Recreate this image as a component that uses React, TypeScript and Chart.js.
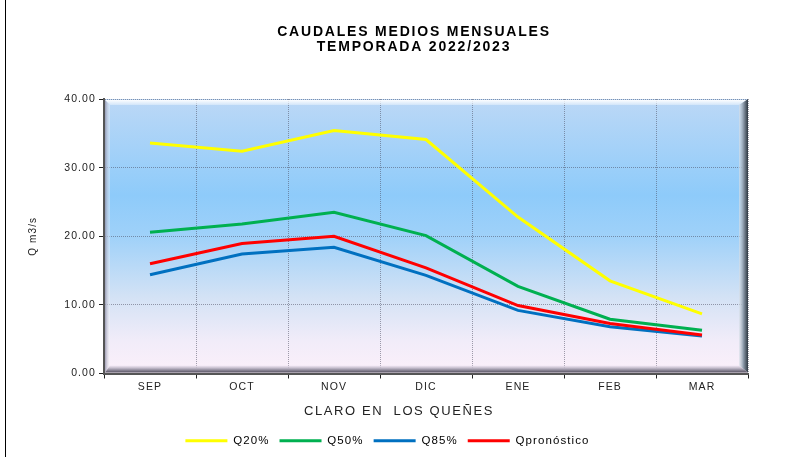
import React, { useEffect, useRef } from "react";
import { Chart, registerables } from "chart.js";

Chart.register(...registerables);

const months = ["SEP", "OCT", "NOV", "DIC", "ENE", "FEB", "MAR"];
const q20 = [33.6, 32.4, 35.4, 34.1, 22.8, 13.5, 8.7];
const q50 = [20.6, 21.8, 23.5, 20.1, 12.7, 7.9, 6.3];
const q85 = [14.4, 17.4, 18.4, 14.3, 9.2, 6.8, 5.45];
const qPron = [16.0, 18.95, 20.0, 15.4, 9.9, 7.3, 5.6];
const yMin = 0;
const yMax = 40;
const yStep = 10;
const titleLines = ["CAUDALES MEDIOS MENSUALES", "TEMPORADA 2022/2023"];
const xTitle = "CLARO EN  LOS QUEÑES";
const yTitle = "Q m3/s";
const seriesNames = ["Q20%", "Q50%", "Q85%", "Qpronóstico"];
const seriesColors = ["#ffff00", "#00b050", "#0070c0", "#ff0000"];

const FONT = '"Liberation Sans", Arial, sans-serif';

function poly(ctx: CanvasRenderingContext2D, pts: number[][], fill: any) {
  ctx.beginPath();
  ctx.moveTo(pts[0][0], pts[0][1]);
  for (let i = 1; i < pts.length; i++) ctx.lineTo(pts[i][0], pts[i][1]);
  ctx.closePath();
  ctx.fillStyle = fill;
  ctx.fill();
}

const decorPlugin = {
  id: "decor",
  beforeUpdate(chart: any) {
    chart.ctx.letterSpacing = "1.1px";
  },
  beforeDraw(chart: any) {
    const ctx = chart.ctx as CanvasRenderingContext2D;
    ctx.letterSpacing = "1.1px";
    ctx.save();
    ctx.fillStyle = "#ffffff";
    ctx.fillRect(0, 0, chart.width, chart.height);
    const { left, top, right, bottom } = chart.chartArea;
    const g = ctx.createLinearGradient(0, top, 0, bottom);
    g.addColorStop(0, "#bcd8f6");
    g.addColorStop(0.35, "#8ecbfa");
    g.addColorStop(0.5, "#9fd1f9");
    g.addColorStop(0.72, "#d3e2f5");
    g.addColorStop(0.88, "#f1ecf9");
    g.addColorStop(1, "#fcf0fa");
    ctx.fillStyle = g;
    ctx.fillRect(left, top, right - left, bottom - top);
    ctx.restore();
  },
  beforeDatasetsDraw(chart: any) {
    const ctx = chart.ctx as CanvasRenderingContext2D;
    const { left, top, right, bottom } = chart.chartArea;
    const L = left + 1, T = top + 1, R = right, B = bottom - 1;
    const wt = 5, wr = 9, wb = 7, wl = 5;
    ctx.save();
    let g = ctx.createLinearGradient(0, T, 0, T + wt);
    g.addColorStop(0, "rgba(255,255,255,0.95)");
    g.addColorStop(1, "rgba(255,255,255,0.35)");
    poly(ctx, [[L, T], [R, T], [R - wr, T + wt], [L + wl, T + wt]], g);
    g = ctx.createLinearGradient(L, 0, L + wl, 0);
    g.addColorStop(0, "rgba(140,140,165,0.8)");
    g.addColorStop(1, "rgba(255,255,255,0.3)");
    poly(ctx, [[L, T], [L, B], [L + wl, B - wb], [L + wl, T + wt]], g);
    g = ctx.createLinearGradient(0, B - wb, 0, B);
    g.addColorStop(0, "rgba(235,225,240,0.6)");
    g.addColorStop(0.5, "#aaa4b4");
    g.addColorStop(1, "#555060");
    poly(ctx, [[L, B], [R, B], [R - wr, B - wb], [L + wl, B - wb]], g);
    g = ctx.createLinearGradient(R - wr, 0, R, 0);
    g.addColorStop(0, "rgba(220,228,236,0.6)");
    g.addColorStop(0.5, "#8a98a8");
    g.addColorStop(1, "#2c3640");
    poly(ctx, [[R, T - 1], [R, B], [R - wr, B - wb], [R - wr, T + wt]], g);
    ctx.restore();
  },
  afterDraw(chart: any) {
    const ctx = chart.ctx as CanvasRenderingContext2D;
    ctx.save();
    ctx.fillStyle = "#000000";
    ctx.fillRect(5, 0, 1, 457);
    ctx.textAlign = "center";
    ctx.textBaseline = "middle";
    ctx.letterSpacing = "1.8px";
    ctx.font = `bold 14px ${FONT}`;
    ctx.fillText(titleLines[0], 414, 32);
    ctx.fillText(titleLines[1], 414, 47);
    ctx.letterSpacing = "1.6px";
    ctx.font = `13px ${FONT}`;
    ctx.fillStyle = "#222222";
    ctx.fillText(xTitle, 399, 411);
    ctx.restore();
  },
};

export default function App() {
  const ref = useRef<HTMLCanvasElement | null>(null);
  useEffect(() => {
    if (!ref.current) return;
    const series = [q20, q50, q85, qPron];
    const chart = new Chart(ref.current, {
      type: "line",
      data: {
        labels: months,
        datasets: series.map((d, i) => ({
          label: seriesNames[i],
          data: d,
          borderColor: seriesColors[i],
          backgroundColor: seriesColors[i],
          borderWidth: 3,
          pointRadius: 0,
          tension: 0,
          fill: false,
          order: 3 - i,
        })),
      },
      options: {
        responsive: false,
        animation: false,
        events: [],
        layout: { padding: { top: 99, left: 27, right: 61, bottom: 1.5 } },
        plugins: {
          title: { display: false },
          tooltip: { enabled: false },
          legend: {
            position: "bottom",
            labels: {
              boxWidth: 42,
              boxHeight: 3,
              padding: 10,
              color: "#222222",
              font: { size: 11.5, family: FONT },
              sort: (a: any, b: any) => a.datasetIndex - b.datasetIndex,
              generateLabels: (c: any) =>
                c.data.datasets.map((ds: any, i: number) => ({
                  text: ds.label,
                  fillStyle: ds.borderColor,
                  strokeStyle: ds.borderColor,
                  lineWidth: 0,
                  datasetIndex: i,
                  hidden: false,
                })),
            },
          },
        },
        scales: {
          x: {
            type: "category",
            offset: true,
            grid: {
              offset: true,
              color: "rgba(70,70,90,0.5)",
              lineWidth: 1,
              tickLength: 5,
              tickColor: "#222222",
              tickWidth: 1,
            },
            border: { display: true, color: "#555555", width: 2, dash: [1, 1] },
            ticks: {
              color: "#222222",
              font: { size: 10.5, family: FONT },
              padding: 2,
              maxRotation: 0,
              autoSkip: false,
            },
            afterFit: (s: any) => {
              s.height = 51.5;
            },
          },
          y: {
            min: yMin,
            max: yMax,
            ticks: {
              stepSize: yStep,
              callback: (v: any) => Number(v).toFixed(2),
              color: "#222222",
              font: { size: 10.5, family: FONT },
              padding: 3,
            },
            grid: {
              color: "rgba(70,70,90,0.5)",
              lineWidth: 1,
              tickLength: 5,
              tickColor: "#222222",
              tickWidth: 1,
            },
            border: { display: true, color: "#555555", width: 2, dash: [1, 1] },
            title: {
              display: true,
              text: yTitle,
              color: "#222222",
              font: { size: 10, family: FONT },
              padding: { top: 0, bottom: 0 },
            },
            afterFit: (s: any) => {
              s.width = 77;
            },
          },
        },
      },
      plugins: [decorPlugin],
    });
    return () => chart.destroy();
  }, []);
  return (
    <div style={{ position: "absolute", left: 0, top: 0, width: 809, height: 458 }}>
      <canvas ref={ref} width={809} height={458} style={{ display: "block" }} />
    </div>
  );
}
